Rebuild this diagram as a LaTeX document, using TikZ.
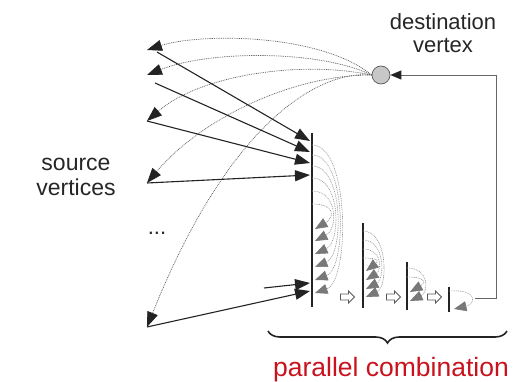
\documentclass[tikz,border=0pt]{standalone}
\usepackage{fontspec}
\setmainfont{Liberation Sans}
\usetikzlibrary{arrows.meta,decorations.pathreplacing,shapes.arrows}

\definecolor{inkdark}{RGB}{35,35,35}
\definecolor{fangray}{RGB}{95,95,95}
\definecolor{loopgray}{RGB}{140,140,140}
\definecolor{tipgray}{RGB}{120,120,120}
\definecolor{labelred}{RGB}{200,18,30}

\tikzset{
  blk/.style={-{Triangle[length=15pt,width=11pt]}, line width=1.1pt, draw=inkdark},
  fan/.style={-{Triangle[length=15pt,width=11pt,color=inkdark]}, draw=fangray,
              line width=0.7pt, dash pattern=on 0.9pt off 0.9pt},
  loopline/.style={-{Triangle[length=12.5pt,width=10pt,color=tipgray]}, draw=loopgray,
              line width=0.6pt, dash pattern=on 0.9pt off 0.9pt},
  barline/.style={line width=2.8pt, draw=inkdark},
  hollow/.style={single arrow, draw=black!65, fill=white, minimum height=14pt,
              inner sep=2.5pt, single arrow head extend=3pt, line width=0.8pt},
  lbl/.style={font=\fontsize{22}{23}\selectfont, align=center, text=black!85},
  fb/.style={-{Triangle[length=11pt,width=9pt,color=inkdark]}, draw=black!60, line width=0.9pt},
  bracket/.style={decorate, decoration={brace, amplitude=12pt, mirror}, line width=1.6pt, draw=inkdark}
}

\begin{document}
\begin{tikzpicture}[x=1pt,y=-1pt]
\useasboundingbox (0,0) rectangle (525,382);

% labels
\node[lbl] (destlbl) at (443,33) {destination\\vertex};
\node[lbl, font=\fontsize{23}{25}\selectfont] (srclbl) at (76,177) {source\\vertices};
\node[lbl] (dots) at (157,233) {...};
\node[font=\fontsize{26.5}{28}\selectfont, text=labelred] (pclbl) at (391,370) {parallel combination};

% destination vertex
\node[circle, draw=black!65, fill=black!22, minimum size=18pt, inner sep=0pt, line width=0.7pt] (dest) at (381,75) {};

% source vertices
\coordinate (s1) at (147,50);
\coordinate (s2) at (147,75);
\coordinate (s3) at (147,121);
\coordinate (s4) at (147,183);
\coordinate (s5) at (147,327);
\coordinate (s1b) at (157,52);
\coordinate (s2b) at (155,83);
\coordinate (s6) at (264,288);

% fan-out from the destination vertex to the sources
\draw[fan] (dest.west) .. controls (320,33) and (200,33) .. (s1);
\draw[fan] (dest.west) .. controls (320,50) and (210,50) .. (s2);
\draw[fan] (dest.west) .. controls (300,60) and (200,75) .. (s3);
\draw[fan] (dest.west) .. controls (290,75) and (200,120) .. (s4);
\draw[fan] (dest.west) .. controls (320,70) and (230,120) .. (s5);

% bars of the parallel combination
\coordinate (b1t) at (312,133); \coordinate (b1b) at (312,307);
\coordinate (b2t) at (363,223); \coordinate (b2b) at (363,308);
\coordinate (b3t) at (407,262); \coordinate (b3b) at (407,310);
\coordinate (b4t) at (449,287); \coordinate (b4b) at (449,312);
\draw[barline] (b1t) -- (b1b);
\draw[barline] (b2t) -- (b2b);
\draw[barline] (b3t) -- (b3b);
\draw[barline] (b4t) -- (b4b);

% messages from the sources to the first bar
\coordinate (t1) at (310,141);
\coordinate (t2) at (310,152);
\coordinate (t3) at (310,163);
\coordinate (t4) at (310,175);
\coordinate (t5) at (310,283);
\coordinate (t6) at (310,291);
\draw[blk] (s1b) -- (t1);
\draw[blk] (s2b) -- (t2);
\draw[blk] (s3) -- (t3);
\draw[blk] (s4) -- (t4);
\draw[blk] (s6) -- (t5);
\draw[blk] (s5) -- (t6);

% pairwise combination loops
\foreach \a/\b/\c in {145/293/350, 155/280/347, 166/267/344, 178/254/341, 191/241/338, 204/229/335}
  \draw[loopline] (312,\a) .. controls (\c,\a) and (\c,{\b-12}) .. (315,\b);
\foreach \a/\b/\c in {231/297/388, 240/289/385, 249/280/382, 258/271/379}
  \draw[loopline] (363,\a) .. controls (\c,\a) and (\c,{\b-10}) .. (366,\b);
\foreach \a/\b/\c in {268/301/429, 277/292/426}
  \draw[loopline] (407,\a) .. controls (\c,\a) and (\c,{\b-9}) .. (410,\b);
\draw[loopline] (449,291) .. controls (478,289) and (476,304) .. (454,309);

% stage transitions
\node[hollow] (h1) at (346,297) {};
\node[hollow] (h2) at (392,297) {};
\node[hollow] (h3) at (433,297) {};

% feedback to the destination vertex
\coordinate (fbs) at (475,298);
\coordinate (fbc) at (496,75);
\draw[fb] (fbs) -| (fbc) -- (dest.east);

% bracket under the combination
\coordinate (brl) at (268,331);
\coordinate (brr) at (507,331);
\draw[bracket] (brl) -- (brr);
\end{tikzpicture}
\end{document}
